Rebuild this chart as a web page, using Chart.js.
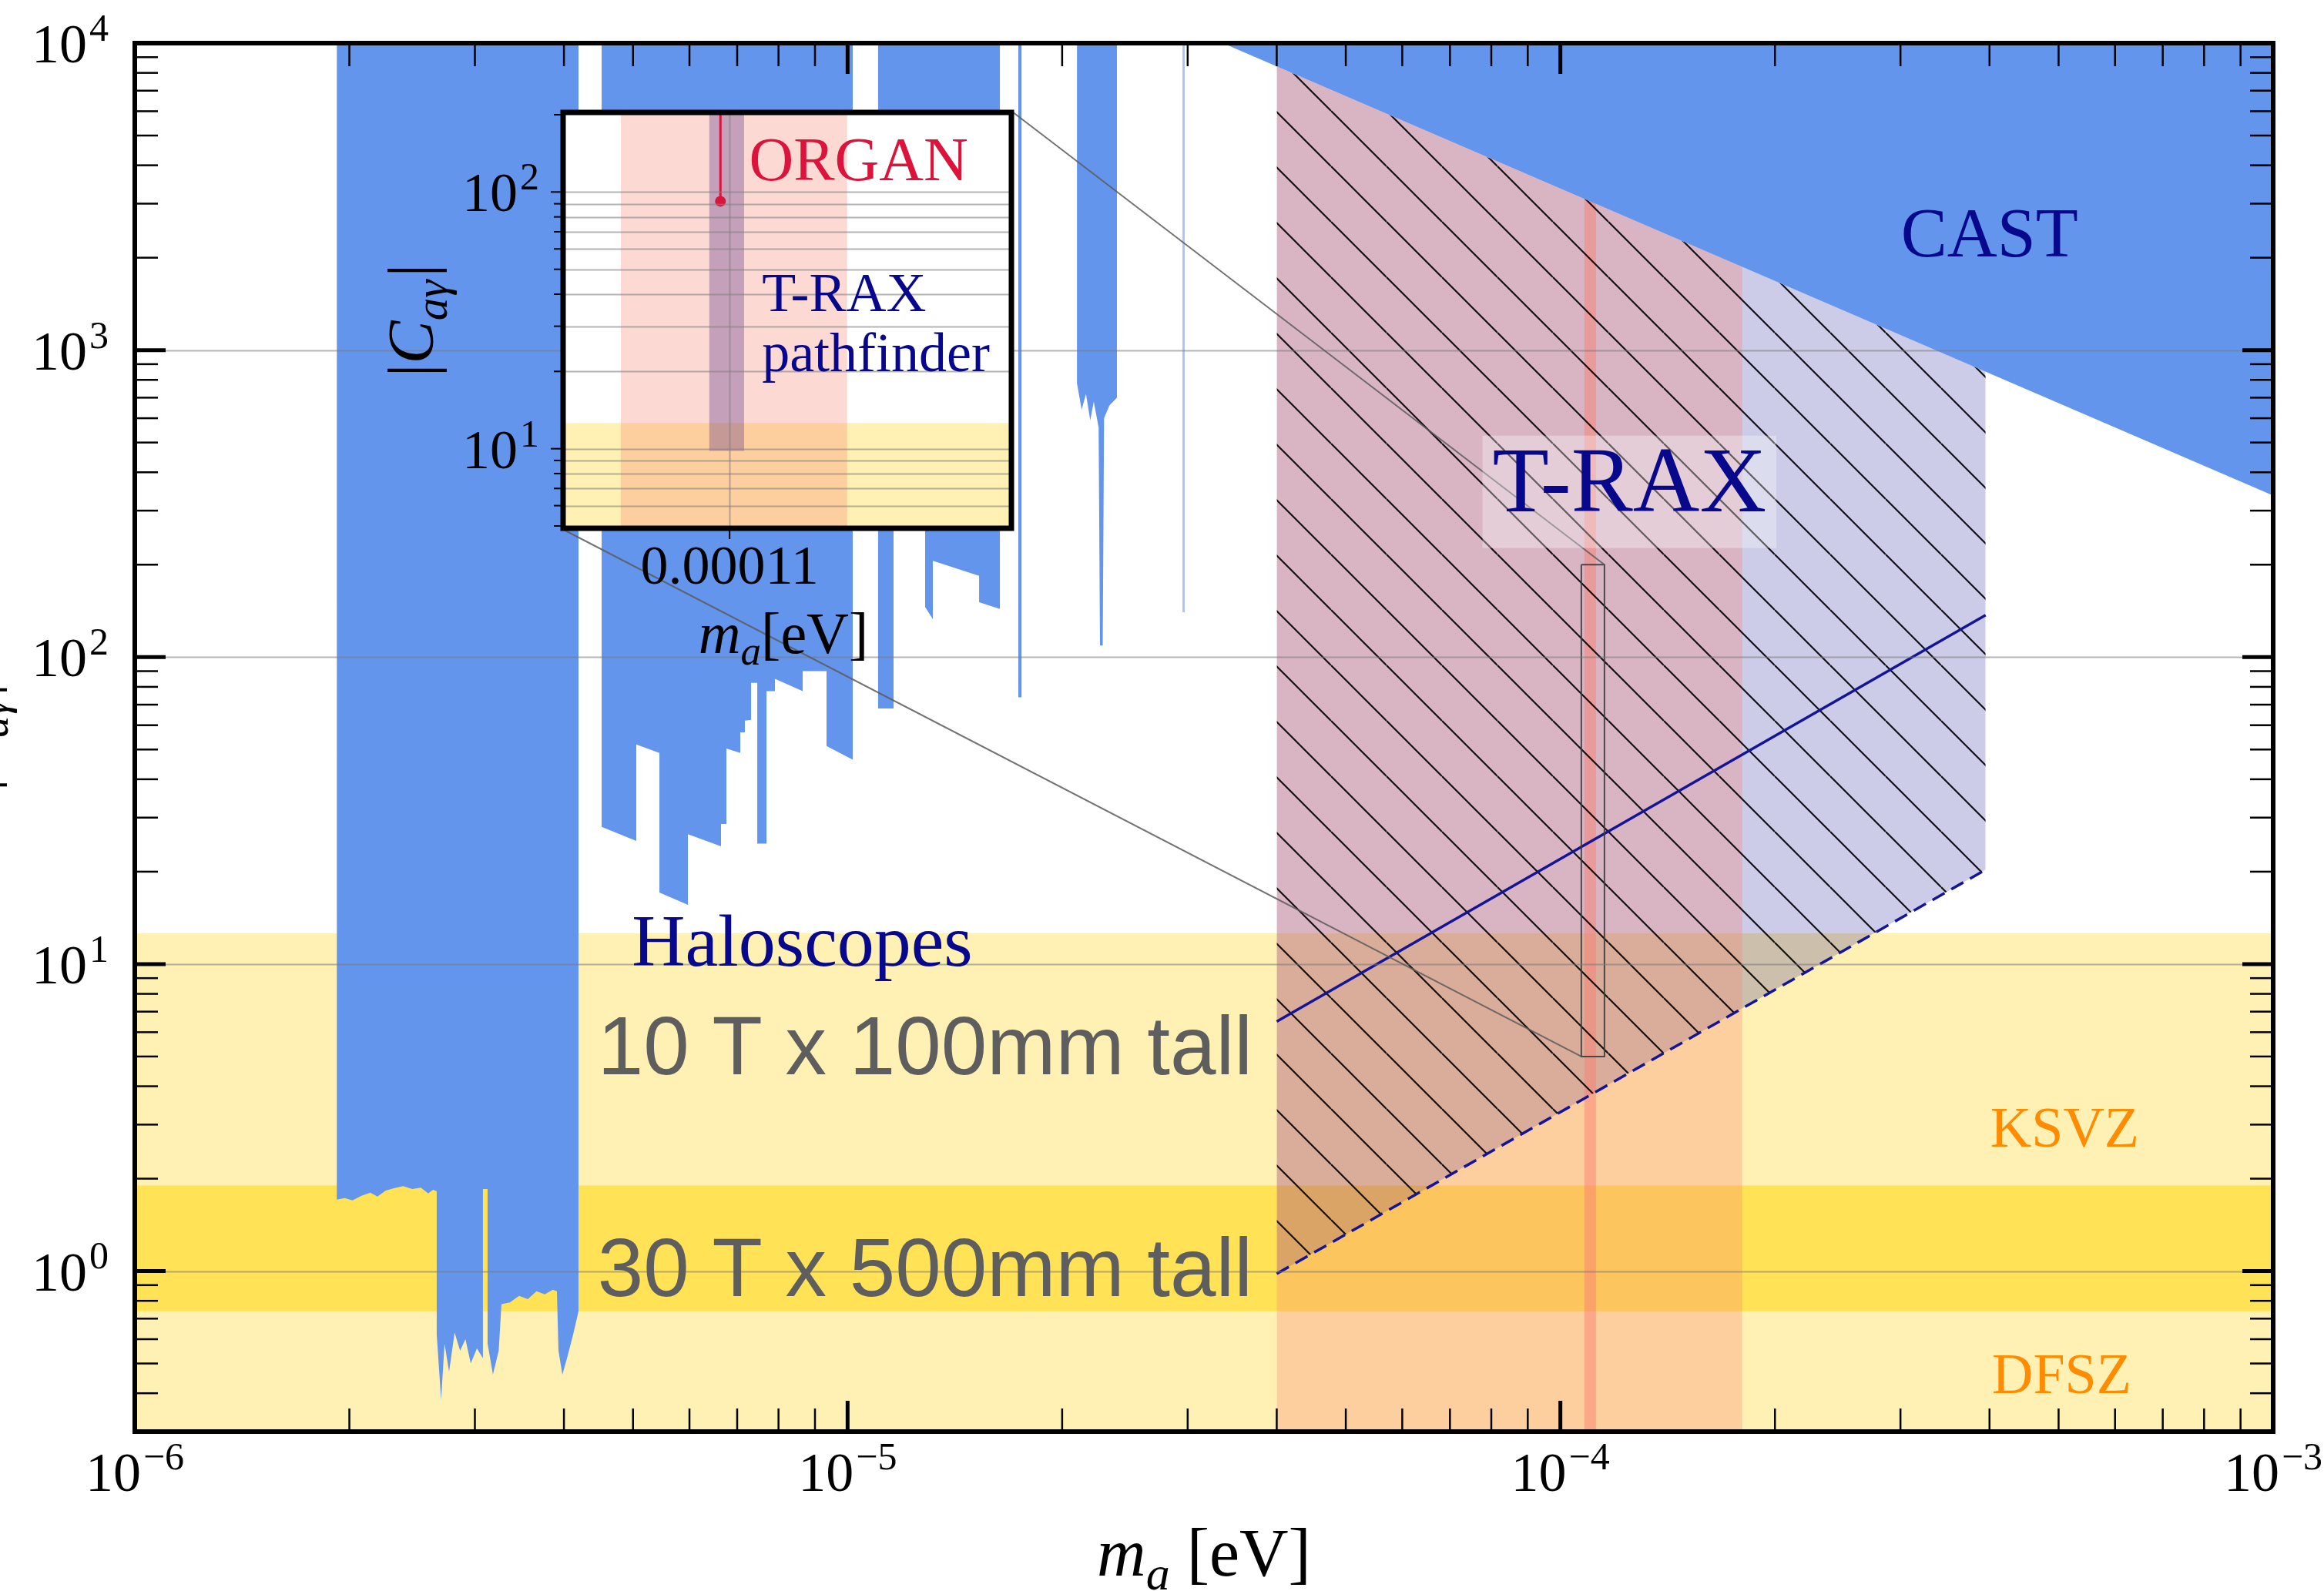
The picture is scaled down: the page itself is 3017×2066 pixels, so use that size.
<!DOCTYPE html>
<html lang="en">
<head>
<meta charset="UTF-8">
<title>T-RAX axion-photon reach</title>
<style>
  body { margin: 0; background: #fff; }
  #wrap { position: relative; width: 3017px; height: 2066px; }
  #main { position: absolute; left: 0; top: 0; }
  #inset { position: absolute; left: 460px; top: 120px; }
</style>
</head>
<body>
<div id="wrap">
  <canvas id="main" width="3017" height="2066"></canvas>
  <canvas id="inset" width="880" height="780"></canvas>
</div>
<script src="https://cdn.jsdelivr.net/npm/chart.js"></script>
<script>
// ---- axis ranges and decade ticks ----
const xMin = 1e-6, xMax = 1e-3;
const yMin = 0.3, yMax = 1e4;
const xDecades = [1e-6, 1e-5, 1e-4, 1e-3];
const yDecades = [1, 10, 100, 1000, 10000];

// KSVZ / DFSZ coupling bands
const ksvzTop = 12.6;
const dfszBand = [0.74, 1.9];

// haloscope exclusions: lower edge of the excluded region (filled up to the top)
const haloX = [
  1.92e-6, 1.92e-6, 1.97e-6, 2.02e-6, 2.08e-6, 2.14e-6, 2.19e-6, 2.25e-6, 2.31e-6, 2.38e-6,
  2.45e-6, 2.52e-6, 2.58e-6, 2.62e-6, 2.652e-6, 2.652e-6, 2.69e-6, 2.72e-6, 2.76e-6, 2.81e-6,
  2.86e-6, 2.91e-6, 2.96e-6, 3.02e-6, 3.079e-6, 3.079e-6, 3.126e-6, 3.126e-6, 3.18e-6, 3.24e-6,
  3.269e-6, 3.36e-6, 3.46e-6, 3.56e-6, 3.66e-6, 3.76e-6, 3.86e-6, 3.91e-6, 3.93e-6, 3.98e-6,
  4.04e-6, 4.12e-6, 4.193e-6, 4.193e-6,
  4.518e-6, 4.518e-6, 5.053e-6, 5.053e-6, 5.445e-6, 5.445e-6, 5.97e-6, 5.97e-6, 6.644e-6, 6.644e-6,
  6.761e-6, 6.761e-6, 7.071e-6, 7.071e-6, 7.177e-6, 7.177e-6, 7.322e-6, 7.322e-6, 7.469e-6, 7.469e-6,
  7.696e-6, 7.696e-6, 7.909e-6, 7.909e-6, 8.65e-6, 8.65e-6, 9.343e-6, 9.343e-6, 1.0167e-5, 1.0167e-5,
  1.1036e-5, 1.1036e-5, 1.16e-5, 1.16e-5, 1.2847e-5, 1.2847e-5, 1.317e-5, 1.317e-5, 1.5294e-5, 1.5294e-5,
  1.6357e-5, 1.6357e-5,
  1.736e-5, 1.736e-5, 1.754e-5, 1.754e-5,
  2.098e-5, 2.098e-5, 2.13e-5, 2.16e-5, 2.19e-5, 2.215e-5, 2.25e-5, 2.26e-5, 2.28e-5, 2.29e-5,
  2.33e-5, 2.387e-5, 2.387e-5,
  3.2e-5
];
const haloY = [
  1e4, 1.71, 1.73, 1.70, 1.76, 1.80, 1.75, 1.83, 1.86, 1.89,
  1.85, 1.87, 1.79, 1.84, 1.82, 0.62, 0.38, 0.58, 0.47, 0.63,
  0.55, 0.60, 0.50, 0.56, 0.52, 1.85, 1.85, 0.58, 0.46, 0.55,
  0.78, 0.79, 0.83, 0.81, 0.86, 0.84, 0.87, 0.86, 0.55, 0.46,
  0.52, 0.62, 0.74, 1e4,
  1e4, 28, 25.2, 51.9, 48.7, 17.1, 15.6, 26.5, 24.2, 28.6,
  28.6, 50.4, 48.7, 56.9, 56.9, 62.1, 62.5, 82.4, 82.4, 24.7,
  24.7, 77.5, 77.5, 84.9, 77.5, 90, 90, 51.3, 46.3, 1e4,
  1e4, 68, 68, 320, 320, 145.5, 133, 206, 184, 151,
  143.5, 1e4,
  1e4, 74, 74, 1e4,
  1e4, 780, 640, 720, 590, 680, 560, 109, 109, 600,
  660, 700, 1e4,
  1e4
];
// faint single-frequency scan
const haloLineX = [2.95e-5, 2.95e-5, 2.972e-5, 2.972e-5];
const haloLineY = [1e4, 140, 140, 1e4];

// CAST helioscope limit
const castX = [3.36e-5, 1e-3];
const castY = [1e4, 336];

// T-RAX projected region and reach lines
const traxX = [4e-5, 3.95e-4];
const traxTop = [8400, 851];
const reach10T = [6.5, 137];
const reach30T = [0.98, 20.3];

// mass windows
const massBandX = [4e-5, 1.8e-4];
const organBandX = [1.08e-4, 1.122e-4];

// zoomed window shown in the inset
const zoomX = [1.07e-4, 1.153e-4];
const zoomY = [5, 200];
const pathfinderX = [1.0962e-4, 1.1027e-4];
const pathfinderFloor = 9.8;
const organX = [1.0983e-4];
const organY = [92];
const insetXTicks = [1.1e-4];
const insetXTickLabels = ['0.00011'];
const insetYDecades = [10, 100];

// ---- styling ----
const navy = 'rgb(8,8,140)';
const lineNavy = 'rgb(20,20,150)';
const blue = '#6495ED';
const lightYellow = 'rgb(255,241,180)';
const darkYellow = 'rgb(255,226,86)';
const clear = 'rgba(0,0,0,0)';
const serif = '"Liberation Serif", "DejaVu Serif", serif';
const sans = '"Liberation Sans", Arial, sans-serif';

const insetArea = { left: 734, top: 149, right: 1310, bottom: 683 };
const insetCanvas = { left: 460, top: 120, width: 880, height: 780 };

const pts = (xs, ys) => xs.map((x, i) => ({ x, y: ys[i] }));
const flat = (xs, y) => xs.map(x => ({ x, y }));

function makeHatch() {
  const c = document.createElement('canvas');
  c.width = 72; c.height = 72;
  const g = c.getContext('2d');
  g.strokeStyle = '#121212';
  g.lineWidth = 2.2;
  for (const k of [-72, 0, 72]) {
    g.beginPath(); g.moveTo(0, k); g.lineTo(72, k + 72); g.stroke();
  }
  return g.createPattern(c, 'repeat');
}

function logTicks(min, max) {
  const out = [];
  for (let e = Math.floor(Math.log10(min)); e <= Math.ceil(Math.log10(max)); e++) {
    for (let m = 1; m <= 9; m++) {
      const v = m * Math.pow(10, e);
      if (v >= min * 0.999 && v <= max * 1.001) out.push({ v, major: m === 1 });
    }
  }
  return out;
}

// draw a run of text pieces (for sub/superscripts)
function drawRun(ctx, parts, x, y, align) {
  let w = 0;
  parts.forEach(p => { ctx.font = p.font; p.w = ctx.measureText(p.t).width + (p.gap || 0); w += p.w; });
  let cx = align === 'center' ? x - w / 2 : align === 'right' ? x - w : x;
  ctx.textAlign = 'left';
  ctx.textBaseline = 'alphabetic';
  parts.forEach(p => { ctx.font = p.font; ctx.fillText(p.t, cx + (p.gap || 0), y + (p.dy || 0)); cx += p.w; });
  return w;
}

function powerParts(v, size) {
  const e = Math.round(Math.log10(v));
  const exp = (e < 0 ? '\u2212' : '') + Math.abs(e);
  return [
    { t: '10', font: `${size}px ${serif}` },
    { t: exp, font: `${Math.round(size * 0.7)}px ${serif}`, dy: -size * 0.39, gap: 3 }
  ];
}

function couplingParts(size) {
  return [
    { t: '|', font: `${size}px ${serif}` },
    { t: 'C', font: `italic ${size}px ${serif}` },
    { t: 'a\u03b3', font: `italic ${Math.round(size * 0.7)}px ${serif}`, dy: size * 0.22 },
    { t: '|', font: `${size}px ${serif}`, gap: 4 }
  ];
}

function massParts(size, spaced) {
  return [
    { t: 'm', font: `italic ${size}px ${serif}` },
    { t: 'a', font: `italic ${Math.round(size * 0.7)}px ${serif}`, dy: size * 0.2 },
    { t: spaced ? ' [eV]' : '[eV]', font: `${size}px ${serif}` }
  ];
}

function drawFrameTicks(ctx, a, xs, ys, xTicks, yTicks, major, minor, frameW) {
  ctx.strokeStyle = '#000';
  ctx.lineCap = 'butt';
  const seg = (x1, y1, x2, y2) => { ctx.beginPath(); ctx.moveTo(x1, y1); ctx.lineTo(x2, y2); ctx.stroke(); };
  xTicks.forEach(t => {
    const px = xs.getPixelForValue(t.v);
    if (px < a.left + 2 || px > a.right - 2) return;
    const len = t.major ? major : minor;
    ctx.lineWidth = t.major ? 5 : 2.5;
    seg(px, a.bottom, px, a.bottom - len);
    seg(px, a.top, px, a.top + len);
  });
  yTicks.forEach(t => {
    const py = ys.getPixelForValue(t.v);
    if (py < a.top + 2 || py > a.bottom - 2) return;
    const len = t.major ? major : minor;
    ctx.lineWidth = t.major ? 5 : 2.5;
    seg(a.left, py, a.left + len, py);
    seg(a.right, py, a.right - len, py);
  });
  ctx.lineWidth = frameW;
  ctx.strokeRect(a.left, a.top, a.right - a.left, a.bottom - a.top);
}

// text placed in data coordinates on the main plot
const mainLabels = [
  { text: 'CAST', x: 4.0e-4, y: 2016, font: `90px ${serif}`, color: navy, align: 'center' },
  { text: 'Haloscopes', x: 4.98e-6, y: 9.9, font: `96px ${serif}`, color: navy, align: 'left' },
  { text: '10 T x 100mm tall', x: 3.7e-5, y: 4.37, font: `107px ${sans}`, color: '#5e5e5e', align: 'right' },
  { text: '30 T x 500mm tall', x: 3.7e-5, y: 0.827, font: `107px ${sans}`, color: '#5e5e5e', align: 'right' },
  { text: 'KSVZ', x: 5.1e-4, y: 2.54, font: `74px ${serif}`, color: '#FF8C00', align: 'center' },
  { text: 'DFSZ', x: 5.05e-4, y: 0.40, font: `74px ${serif}`, color: '#FF8C00', align: 'center' }
];
const traxLabel = { text: 'T-RAX', x: 1.25e-4, y: 299, font: `120px ${serif}`, color: navy };

const mainDecor = {
  id: 'mainDecor',
  beforeDraw(chart) {
    const { ctx, width, height } = chart;
    ctx.save(); ctx.fillStyle = '#fff'; ctx.fillRect(0, 0, width, height); ctx.restore();
  },
  afterDatasetsDraw(chart) {
    const { ctx, chartArea: a, scales: { x, y } } = chart;
    ctx.save();
    // horizontal decade grid
    ctx.strokeStyle = 'rgba(120,120,120,0.55)';
    ctx.lineWidth = 2;
    yDecades.forEach(v => {
      if (v <= yMin || v >= yMax) return;
      const py = Math.round(y.getPixelForValue(v)) + 0.5;
      ctx.beginPath(); ctx.moveTo(a.left, py); ctx.lineTo(a.right, py); ctx.stroke();
    });
    // lines from inset corners to the zoomed window
    ctx.strokeStyle = 'rgba(90,90,90,0.85)';
    ctx.lineWidth = 2;
    ctx.beginPath();
    ctx.moveTo(insetArea.right + 4, insetArea.top - 4);
    ctx.lineTo(x.getPixelForValue(zoomX[1]), y.getPixelForValue(zoomY[1]));
    ctx.moveTo(insetArea.left - 4, insetArea.bottom + 4);
    ctx.lineTo(x.getPixelForValue(zoomX[0]), y.getPixelForValue(zoomY[0]));
    ctx.stroke();

    // T-RAX label with light box
    ctx.font = traxLabel.font;
    const tw = ctx.measureText(traxLabel.text).width;
    const tx = x.getPixelForValue(traxLabel.x), ty = y.getPixelForValue(traxLabel.y);
    ctx.fillStyle = 'rgba(255,255,255,0.32)';
    ctx.fillRect(tx - tw / 2 - 13, ty - 98, tw + 26, 146);
    ctx.fillStyle = traxLabel.color;
    ctx.textAlign = 'center'; ctx.textBaseline = 'alphabetic';
    ctx.fillText(traxLabel.text, tx, ty);

    mainLabels.forEach(l => {
      ctx.font = l.font; ctx.fillStyle = l.color; ctx.textAlign = l.align; ctx.textBaseline = 'alphabetic';
      ctx.fillText(l.text, x.getPixelForValue(l.x), y.getPixelForValue(l.y));
    });

    drawFrameTicks(ctx, a, x, y, logTicks(xMin, xMax), logTicks(yMin, yMax), 40, 30, 6);

    // tick labels
    ctx.fillStyle = '#000';
    xDecades.forEach(v => drawRun(ctx, powerParts(v, 72), x.getPixelForValue(v), a.bottom + 77, 'center'));
    yDecades.forEach(v => drawRun(ctx, powerParts(v, 72), a.left - 34, y.getPixelForValue(v) + 25, 'right'));

    // axis titles
    drawRun(ctx, massParts(88, true), (a.left + a.right) / 2, 2046, 'center');
    ctx.save();
    ctx.translate(-8, (a.top + a.bottom) / 2);
    ctx.rotate(-Math.PI / 2);
    drawRun(ctx, couplingParts(80), 0, 0, 'center');
    ctx.restore();
    ctx.restore();
  }
};

const fillSet = (label, data, fill, color, order) => ({
  label, data, fill, backgroundColor: color, borderColor: clear, borderWidth: 0, order
});

new Chart(document.getElementById('main'), {
  type: 'line',
  data: {
    datasets: [
      fillSet('KSVZ', flat([xMin, xMax], ksvzTop), 'start', lightYellow, 100),          // 0
      fillSet('DFSZ', flat([xMin, xMax], dfszBand[1]), 2, darkYellow, 99),              // 1
      fillSet('DFSZ low', flat([xMin, xMax], dfszBand[0]), false, clear, 98),           // 2
      fillSet('T-RAX', pts(traxX, traxTop), 4, 'rgba(0,0,139,0.2)', 90),                // 3
      { label: '30 T x 500mm', data: pts(traxX, reach30T), fill: false, borderColor: lineNavy,
        borderWidth: 3.5, borderDash: [18, 10], order: 40 },                            // 4
      fillSet('mass window', flat(massBandX, yMax), 'start', 'rgba(250,128,114,0.3)', 80),
      fillSet('ORGAN window', flat(organBandX, yMax), 'start', 'rgba(250,128,114,0.5)', 75),
      fillSet('T-RAX hatch', pts(traxX, traxTop), 4, makeHatch(), 70),
      fillSet('Haloscopes', pts(haloX, haloY), 'end', blue, 60),
      fillSet('Haloscope scan', pts(haloLineX, haloLineY), 'end', 'rgba(100,149,237,0.55)', 61),
      fillSet('CAST', pts(castX, castY), 'end', blue, 50),
      { label: '10 T x 100mm', data: pts(traxX, reach10T), fill: false, borderColor: lineNavy,
        borderWidth: 3.5, order: 40 },
      { label: 'zoom window', fill: false, borderColor: 'rgba(60,60,60,0.9)', borderWidth: 2, order: 30,
        data: pts([zoomX[0], zoomX[1], zoomX[1], zoomX[0], zoomX[0]], [zoomY[1], zoomY[1], zoomY[0], zoomY[0], zoomY[1]]) }
    ]
  },
  options: {
    responsive: false,
    animation: false,
    devicePixelRatio: 1,
    events: [],
    layout: { padding: { left: 175, right: 66, top: 56, bottom: 207 } },
    elements: { point: { radius: 0 }, line: { tension: 0 } },
    scales: {
      x: { type: 'logarithmic', min: xMin, max: xMax, display: false },
      y: { type: 'logarithmic', min: yMin, max: yMax, display: false }
    },
    plugins: {
      legend: { display: false },
      tooltip: { enabled: false },
      filler: { drawTime: 'beforeDatasetDraw' }
    }
  },
  plugins: [mainDecor]
});

// ---- inset: zoom on the ORGAN / T-RAX pathfinder window ----
const insetDecor = {
  id: 'insetDecor',
  beforeDatasetsDraw(chart) {
    const { ctx, chartArea: a } = chart;
    ctx.save(); ctx.fillStyle = '#fff'; ctx.fillRect(a.left, a.top, a.right - a.left, a.bottom - a.top); ctx.restore();
  },
  afterDatasetsDraw(chart) {
    const { ctx, chartArea: a, scales: { x, y } } = chart;
    ctx.save();
    const ticks = logTicks(zoomY[0], zoomY[1]);
    ctx.strokeStyle = 'rgba(130,130,130,0.6)';
    ctx.lineWidth = 2;
    ticks.forEach(t => {
      const py = Math.round(y.getPixelForValue(t.v)) + 0.5;
      if (py <= a.top + 2 || py >= a.bottom - 2) return;
      ctx.beginPath(); ctx.moveTo(a.left, py); ctx.lineTo(a.right, py); ctx.stroke();
    });
    insetXTicks.forEach(v => {
      const px = Math.round(x.getPixelForValue(v)) + 0.5;
      ctx.beginPath(); ctx.moveTo(px, a.top); ctx.lineTo(px, a.bottom); ctx.stroke();
    });

    // labels inside the inset
    ctx.textAlign = 'left'; ctx.textBaseline = 'alphabetic';
    ctx.font = `80px ${serif}`; ctx.fillStyle = '#DC143C';
    ctx.fillText('ORGAN', x.getPixelForValue(1.1036e-4), y.getPixelForValue(111));
    ctx.font = `72px ${serif}`; ctx.fillStyle = navy;
    ctx.fillText('T-RAX', x.getPixelForValue(1.106e-4), y.getPixelForValue(34.3));
    ctx.fillText('pathfinder', x.getPixelForValue(1.106e-4), y.getPixelForValue(20.1));

    // frame and outside ticks
    ctx.strokeStyle = '#000';
    ctx.lineWidth = 7;
    ctx.strokeRect(a.left - 3, a.top - 3, a.right - a.left + 6, a.bottom - a.top + 6);
    ctx.lineWidth = 2;
    ticks.forEach(t => {
      const py = y.getPixelForValue(t.v);
      const len = t.major ? 16 : 12;
      ctx.beginPath(); ctx.moveTo(a.left - 3, py); ctx.lineTo(a.left - 3 - len, py); ctx.stroke();
    });
    insetXTicks.forEach(v => {
      const px = x.getPixelForValue(v);
      ctx.beginPath(); ctx.moveTo(px, a.bottom + 3); ctx.lineTo(px, a.bottom + 17); ctx.stroke();
    });

    ctx.fillStyle = '#000';
    insetYDecades.forEach(v => drawRun(ctx, powerParts(v, 72), a.left - 34, y.getPixelForValue(v) + 25, 'right'));
    ctx.font = `72px ${serif}`; ctx.textAlign = 'center';
    insetXTicks.forEach((v, i) => ctx.fillText(insetXTickLabels[i], x.getPixelForValue(v), a.bottom + 75));
    drawRun(ctx, massParts(76, false), (a.left + a.right) / 2 - 5, a.bottom + 165, 'center');
    ctx.save();
    ctx.translate(a.left - 172, (a.top + a.bottom) / 2);
    ctx.rotate(-Math.PI / 2);
    drawRun(ctx, couplingParts(84), 0, 0, 'center');
    ctx.restore();
    ctx.restore();
  }
};

new Chart(document.getElementById('inset'), {
  type: 'line',
  data: {
    datasets: [
      fillSet('KSVZ', flat(zoomX, ksvzTop), 'start', lightYellow, 100),
      fillSet('ORGAN window', flat(organBandX, zoomY[1]), 'start', 'rgba(250,128,114,0.3)', 90),
      fillSet('T-RAX pathfinder', flat(pathfinderX, pathfinderFloor), 'end', 'rgba(80,40,130,0.32)', 80),
      { label: 'ORGAN', data: [{ x: organX[0], y: organY[0] }, { x: organX[0], y: zoomY[1] }],
        fill: false, borderColor: '#DC143C', borderWidth: 3, order: 10,
        pointRadius: [7, 0], pointBackgroundColor: '#DC143C', pointBorderWidth: 0 }
    ]
  },
  options: {
    responsive: false,
    animation: false,
    devicePixelRatio: 1,
    events: [],
    layout: { padding: {
      left: insetArea.left - insetCanvas.left,
      top: insetArea.top - insetCanvas.top,
      right: insetCanvas.width - (insetArea.right - insetCanvas.left),
      bottom: insetCanvas.height - (insetArea.bottom - insetCanvas.top)
    } },
    elements: { point: { radius: 0 }, line: { tension: 0 } },
    scales: {
      x: { type: 'logarithmic', min: zoomX[0], max: zoomX[1], display: false },
      y: { type: 'logarithmic', min: zoomY[0], max: zoomY[1], display: false }
    },
    plugins: {
      legend: { display: false },
      tooltip: { enabled: false },
      filler: { drawTime: 'beforeDatasetDraw' }
    }
  },
  plugins: [insetDecor]
});
</script>
</body>
</html>
